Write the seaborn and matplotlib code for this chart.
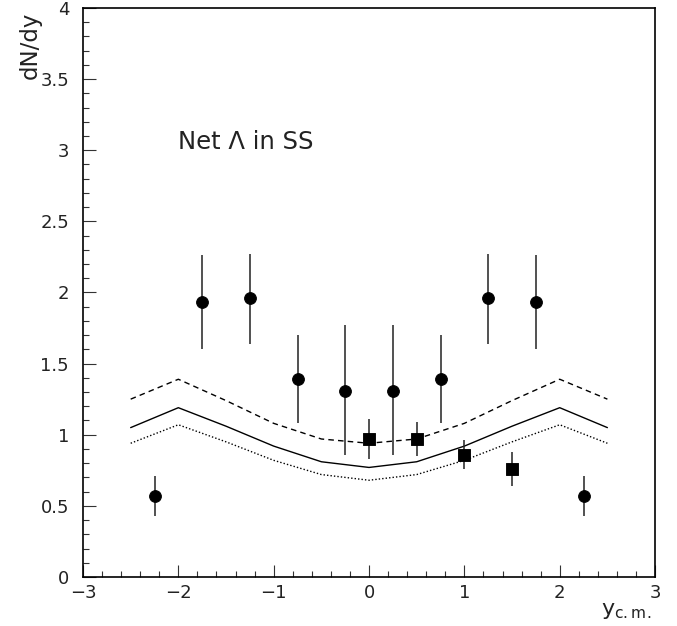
import numpy as np
import pandas as pd
import matplotlib
matplotlib.use("Agg")
import matplotlib.pyplot as plt
import seaborn as sns
from matplotlib.ticker import MultipleLocator

# measured points: net Lambda (circles, reflected) and squares
circ_x = [-2.25, -1.75, -1.25, -0.75, -0.25, 0.25, 0.75, 1.25, 1.75, 2.25]
circ_y = [0.57, 1.93, 1.96, 1.39, 1.31, 1.31, 1.39, 1.96, 1.93, 0.57]
circ_lo = [0.43, 1.60, 1.64, 1.08, 0.86, 0.86, 1.08, 1.64, 1.60, 0.43]
circ_hi = [0.71, 2.26, 2.27, 1.70, 1.77, 1.77, 1.70, 2.27, 2.26, 0.71]

sq_x = [0.0, 0.5, 1.0, 1.5]
sq_y = [0.97, 0.97, 0.86, 0.76]
sq_lo = [0.83, 0.85, 0.76, 0.64]
sq_hi = [1.11, 1.09, 0.96, 0.88]

# model curves
curve_x = [-2.5, -2.0, -1.5, -1.0, -0.5, 0.0, 0.5, 1.0, 1.5, 2.0, 2.5]
solid_y = [1.05, 1.19, 1.06, 0.92, 0.81, 0.77, 0.81, 0.92, 1.06, 1.19, 1.05]
dashed_y = [1.25, 1.39, 1.24, 1.08, 0.97, 0.94, 0.97, 1.08, 1.24, 1.39, 1.25]
dotted_y = [0.94, 1.07, 0.95, 0.82, 0.72, 0.68, 0.72, 0.82, 0.95, 1.07, 0.94]

sns.set_style("white")
plt.rcParams['font.family'] = ['DejaVu Sans']

fig = plt.figure(figsize=(6.77, 6.26), dpi=100)
ax = fig.add_axes([0.1226, 0.0783, 0.845, 0.909])

curves = pd.DataFrame({'x': curve_x, 'solid': solid_y, 'dashed': dashed_y, 'dotted': dotted_y})
sns.lineplot(data=curves, x='x', y='solid', ax=ax, color='black', lw=1.0)
sns.lineplot(data=curves, x='x', y='dashed', ax=ax, color='black', lw=1.0, linestyle=(0, (4, 3)))
sns.lineplot(data=curves, x='x', y='dotted', ax=ax, color='black', lw=1.0, linestyle=(0, (1, 1.5)))

ax.vlines(circ_x, circ_lo, circ_hi, color='#222222', lw=1.1)
ax.vlines(sq_x, sq_lo, sq_hi, color='#222222', lw=1.1)

circ = pd.DataFrame({'x': circ_x, 'y': circ_y})
sq = pd.DataFrame({'x': sq_x, 'y': sq_y})
sns.scatterplot(data=circ, x='x', y='y', ax=ax, marker='o', s=72, color='black', edgecolor='black', zorder=5)
sns.scatterplot(data=sq, x='x', y='y', ax=ax, marker='s', s=64, color='black', edgecolor='black', zorder=5)

ax.set_xlim(-3, 3)
ax.set_ylim(0, 4)
ax.xaxis.set_minor_locator(MultipleLocator(0.2))
ax.yaxis.set_minor_locator(MultipleLocator(0.1))
ax.set_xticks([-3, -2, -1, 0, 1, 2, 3])
ax.set_xticklabels(['\u22123', '\u22122', '\u22121', '0', '1', '2', '3'])
ax.set_yticks([0, 0.5, 1, 1.5, 2, 2.5, 3, 3.5, 4])
ax.set_yticklabels(['0', '0.5', '1', '1.5', '2', '2.5', '3', '3.5', '4'])
ax.tick_params(which='major', direction='in', length=9, width=0.8, labelsize=13,
               top=False, right=False, bottom=True, left=True, color='#333333',
               labelcolor='#222222')
ax.tick_params(which='minor', direction='in', length=4.5, width=0.8,
               top=False, right=False, bottom=True, left=True, color='#333333')
ax.tick_params(axis='x', pad=5)
ax.tick_params(axis='y', pad=10)
for s in ax.spines.values():
    s.set_visible(True)
    s.set_color('black')
    s.set_linewidth(1.2)

ax.set_xlabel('')
ax.set_ylabel('')
fig.text(0.028, 0.982, 'dN/dy', rotation=90, ha='left', va='top', fontsize=16.5, color='#222222')
fig.text(0.962, 0.008, r'$\mathregular{y_{c.m.}}$', ha='right', va='bottom', fontsize=16, color='#222222')
ax.text(-2.0, 3.06, 'Net \u039b in SS', fontsize=17.5, ha='left', va='center', color='#222222')

fig.savefig('out.png', dpi=100)
